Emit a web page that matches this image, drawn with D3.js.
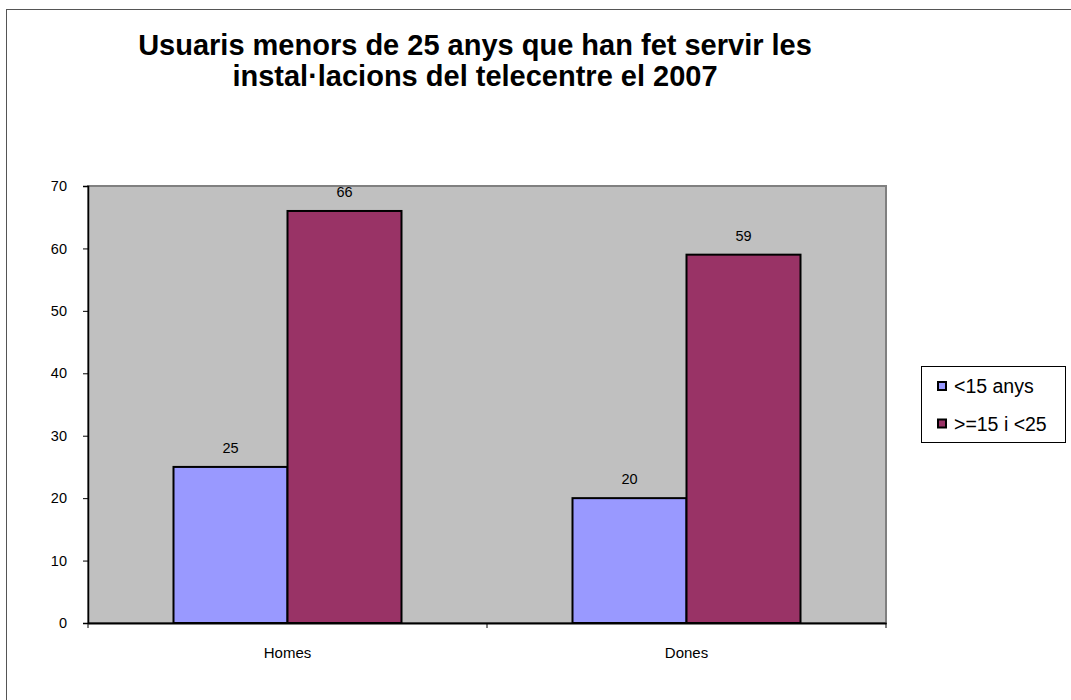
<!DOCTYPE html>
<html><head><meta charset="utf-8">
<script src="https://cdn.jsdelivr.net/npm/d3@7"></script>
<style>body{margin:0;background:#fff}svg{display:block}text{font-family:"Liberation Sans",Arial,sans-serif}</style>
</head><body>
<script>
const categories = ["Homes", "Dones"];
const seriesNames = ["<15 anys", ">=15 i <25"];
const under15 = [25, 20];
const from15to25 = [66, 59];
const yTicks = [0, 10, 20, 30, 40, 50, 60, 70];
const titleLines = ["Usuaris menors de 25 anys que han fet servir les", "instal·lacions del telecentre el 2007"];
const colors = ["#9999FF", "#993366"];

const W = 1071, H = 700;
const svg = d3.select("body").append("svg").attr("width", W).attr("height", H);

svg.append("rect").attr("x", 6.5).attr("y", 9.5).attr("width", 1100).attr("height", 750)
  .attr("fill", "#fff").attr("stroke", "#555").attr("stroke-width", 1);

const plot = {l: 88, t: 186, r: 886, b: 623};
const x = d3.scaleBand().domain(categories).range([plot.l, plot.r]).paddingInner(0).paddingOuter(0);
const x1 = d3.scaleBand().domain(seriesNames).range([0, x.bandwidth()]).paddingInner(0).paddingOuter(0.75);
const y = d3.scaleLinear().domain([0, 70]).range([plot.b, plot.t]);

svg.append("rect").attr("x", plot.l).attr("y", plot.t).attr("width", plot.r - plot.l).attr("height", plot.b - plot.t)
  .attr("fill", "#C0C0C0").attr("stroke", "#808080").attr("stroke-width", 2);

const data = categories.map((c, i) => ({cat: c, vals: [under15[i], from15to25[i]]}));
const g = svg.append("g");
data.forEach(d => {
  d.vals.forEach((v, j) => {
    const bx = x(d.cat) + x1(seriesNames[j]);
    g.append("rect").attr("x", bx).attr("y", y(v)).attr("width", x1.bandwidth()).attr("height", y(0) - y(v))
      .attr("fill", colors[j]).attr("stroke", "#000").attr("stroke-width", 2);
    g.append("text").attr("x", bx + x1.bandwidth() / 2).attr("y", y(v) - 14).attr("text-anchor", "middle")
      .attr("font-size", 14.5).attr("fill", "#000").text(v);
  });
});

// y axis
const yAxis = d3.axisLeft(y).tickValues(yTicks).tickSize(5).tickPadding(16);
const ya = svg.append("g").attr("transform", `translate(${plot.l},0)`).call(yAxis);
ya.select(".domain").attr("stroke", "#000").attr("stroke-width", 1.5);
ya.selectAll(".tick line").attr("stroke", "#000");
ya.selectAll(".tick text").attr("font-size", 14.5).attr("font-family", "Liberation Sans, Arial, sans-serif").attr("fill", "#000");

// x axis
const xAxis = d3.axisBottom(x).tickSize(0).tickPadding(24);
const xa = svg.append("g").attr("transform", `translate(0,${plot.b})`).call(xAxis);
xa.select(".domain").attr("stroke", "#000").attr("stroke-width", 2);
xa.selectAll(".tick text").attr("font-size", 15).attr("font-family", "Liberation Sans, Arial, sans-serif").attr("fill", "#000");
const boundaries = [plot.l, x("Dones"), plot.r];
svg.append("g").selectAll("line").data(boundaries).join("line")
  .attr("x1", d => d).attr("x2", d => d).attr("y1", plot.b).attr("y2", plot.b + 5)
  .attr("stroke", "#000").attr("stroke-width", 1);

// title
svg.append("g").selectAll("text").data(titleLines).join("text")
  .attr("x", 475).attr("y", (d, i) => 55 + i * 31).attr("text-anchor", "middle")
  .attr("font-size", 29).attr("font-weight", "bold").attr("fill", "#000").text(d => d);

// legend
const lg = svg.append("g");
lg.append("rect").attr("x", 921.5).attr("y", 366.5).attr("width", 144).attr("height", 76)
  .attr("fill", "#fff").attr("stroke", "#000").attr("stroke-width", 1);
seriesNames.forEach((s, i) => {
  lg.append("rect").attr("x", 938).attr("y", 382 + i * 37.5).attr("width", 8).attr("height", 8)
    .attr("fill", colors[i]).attr("stroke", "#000").attr("stroke-width", 2);
  lg.append("text").attr("x", 954).attr("y", 393 + i * 38).attr("font-size", 19.5).attr("fill", "#000").text(s);
});
</script>
</body></html>
